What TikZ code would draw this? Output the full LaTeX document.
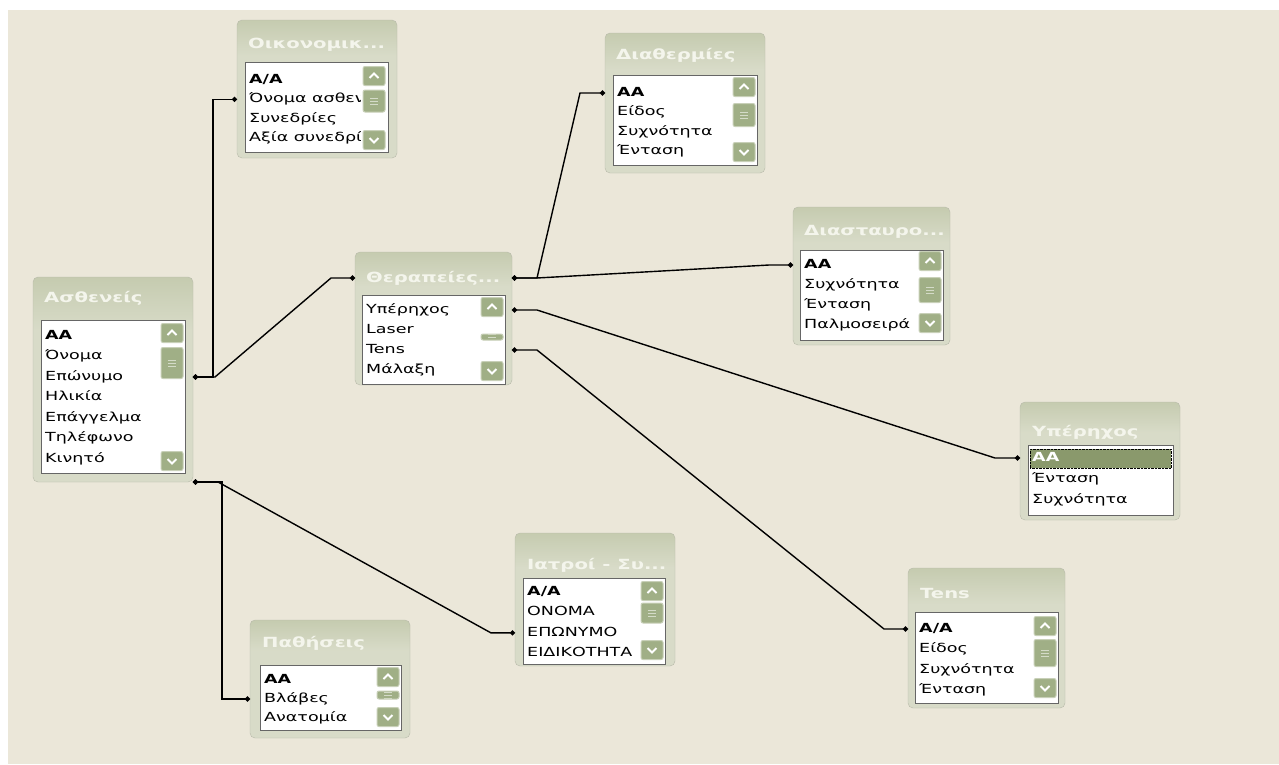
\documentclass[tikz,border=0pt]{standalone}
\usepackage{fontspec}
\setmainfont[FakeStretch=1.4]{DejaVu Sans}
\usetikzlibrary{calc,arrows.meta}

\definecolor{bgclr}{RGB}{235,231,217}
\definecolor{frameclr}{RGB}{216,219,200}
\definecolor{bartop}{RGB}{222,225,207}
\definecolor{barbot}{RGB}{190,197,166}
\definecolor{ttlclr}{RGB}{244,245,236}
\definecolor{btnclr}{RGB}{160,175,134}
\definecolor{btnedge}{RGB}{200,208,184}
\definecolor{selclr}{RGB}{138,153,108}
\pgfdeclareverticalshading{tblshade}{100bp}{color(0bp)=(frameclr); color(62bp)=(frameclr); color(80bp)=(barbot); color(100bp)=(bartop)}

\tikzset{
  tbl/.style={anchor=north west, inner sep=0, outer sep=0, shade, shading=tblshade, draw=frameclr!85!black, rounded corners=5pt},
  ttl/.style={anchor=west, inner sep=0, text=ttlclr, font=\fontsize{14}{16}\selectfont\bfseries},
  lst/.style={anchor=north west, inner sep=0, outer sep=0, fill=white, draw=black!60, line width=1pt},
  item/.style={anchor=west, inner sep=0, text height=9pt, text depth=2.5pt, font=\fontsize{12.5}{14}\selectfont},
  upbtn/.style={minimum width=22, minimum height=19, inner sep=0, fill=btnclr, draw=btnedge, line width=1pt, rounded corners=2pt,
    path picture={\draw[white, line width=2pt, sharp corners] ($(path picture bounding box.center)+(-4.5,2)$) -- ++(4.5,-4.5) -- ++(4.5,4.5);}},
  dnbtn/.style={minimum width=22, minimum height=19, inner sep=0, fill=btnclr, draw=btnedge, line width=1pt, rounded corners=2pt,
    path picture={\draw[white, line width=2pt, sharp corners] ($(path picture bounding box.center)+(-4.5,-2)$) -- ++(4.5,4.5) -- ++(4.5,-4.5);}},
  thumb/.style={minimum width=22, inner sep=0, fill=btnclr, draw=btnedge, line width=1pt, rounded corners=2pt,
    path picture={\foreach \d in {-3,0,3} \draw[btnclr!45!white, sharp corners] ($(path picture bounding box.center)+(-4,\d)$) -- ++(8,0);}},
  rel/.style={line width=1.4pt, {Circle[length=5pt,width=5pt]}-{Circle[length=5pt,width=5pt]}}
}

\begin{document}
\begin{tikzpicture}[x=1pt, y=-1pt]
\useasboundingbox (0,0) rectangle (1279,764);
\fill[white] (0,0) rectangle (1279,764);
\fill[bgclr] (8,10) rectangle (1279,764);

% Οικονομικά
\node[tbl, minimum width=160, minimum height=138] (oik) at (237,20) {};
\node[ttl] (oikT) at (248,45) {Οικονομικ...};
\node[lst, minimum width=143, minimum height=90] (oikL) at (245,62) {};
\foreach \t [count=\i] in {\textbf{A/A},Όνομα ασθεν,Συνεδρίες,Αξία συνεδρία}
  \node[item] (oik\i) at (249,60.6+19.4*\i) {\t};
\fill[white] (361,63) rectangle (387,151);
\node[upbtn] at (374,76) {};
\node[thumb, minimum height=22] at (374,101) {};
\node[dnbtn] at (374,140) {};

% Ασθενείς
\node[tbl, minimum width=160, minimum height=205] (ase) at (33,277) {};
\node[ttl] (aseT) at (44,298) {Ασθενείς};
\node[lst, minimum width=144, minimum height=153] (aseL) at (41,320) {};
\foreach \t [count=\i] in {\textbf{AA},Όνομα,Επώνυμο,Ηλικία,Επάγγελμα,Τηλέφωνο,Κινητό}
  \node[item] (ase\i) at (45,315.5+20.5*\i) {\t};
\fill[white] (159,321) rectangle (184,472);
\node[upbtn] at (172,333) {};
\node[thumb, minimum height=31] at (172,363) {};
\node[dnbtn] at (172,461) {};

% Θεραπείες
\node[tbl, minimum width=157, minimum height=133] (ther) at (355,252) {};
\node[ttl] (therT) at (366,278) {Θεραπείες...};
\node[lst, minimum width=143, minimum height=89] (therL) at (362,295) {};
\foreach \t [count=\i] in {Υπέρηχος,Laser,Tens,Μάλαξη}
  \node[item] (ther\i) at (366,290+20*\i) {\t};
\fill[white] (478,296) rectangle (504,383);
\node[upbtn] at (492,307) {};
\node[thumb, minimum height=6] at (492,337) {};
\node[dnbtn] at (492,371) {};

% Διαθερμίες
\node[tbl, minimum width=160, minimum height=140] (diath) at (605,33) {};
\node[ttl] (diathT) at (616,55) {Διαθερμίες};
\node[lst, minimum width=144, minimum height=90] (diathL) at (613,75) {};
\foreach \t [count=\i] in {\textbf{AA},Είδος,Συχνότητα,Ένταση}
  \node[item] (diath\i) at (617,73.5+19.5*\i) {\t};
\fill[white] (730,76) rectangle (756,164);
\node[upbtn] at (744,87) {};
\node[thumb, minimum height=23] at (744,115) {};
\node[dnbtn] at (744,152) {};

% Διασταυρούμενα
\node[tbl, minimum width=157, minimum height=138] (dias) at (793,207) {};
\node[ttl] (diasT) at (804,232) {Διασταυρο...};
\node[lst, minimum width=143, minimum height=90] (diasL) at (800,250) {};
\foreach \t [count=\i] in {\textbf{AA},Συχνότητα,Ένταση,Παλμοσειρά '}
  \node[item] (dias\i) at (804,245+20*\i) {\t};
\fill[white] (916,251) rectangle (942,339);
\node[upbtn] at (930,261) {};
\node[thumb, minimum height=25] at (930,290) {};
\node[dnbtn] at (930,323) {};

% Υπέρηχος
\node[tbl, minimum width=160, minimum height=118] (yper) at (1020,402) {};
\node[ttl] (yperT) at (1032,432) {Υπέρηχος};
\node[lst, minimum width=145, minimum height=70] (yperL) at (1028,445) {};
\node[anchor=north west, inner sep=0, fill=selclr, draw, densely dotted, minimum width=141, minimum height=19] (yperS) at (1030,449) {};
\foreach \t [count=\i] in {\textcolor{white}{\textbf{AA}},Ένταση,Συχνότητα}
  \node[item] (yper\i) at (1032,437+21*\i) {\t};

% Ιατροί - Συνεργάτες
\node[tbl, minimum width=160, minimum height=133] (iatr) at (515,533) {};
\node[ttl] (iatrT) at (527,565) {Ιατροί - Συ...};
\node[lst, minimum width=142, minimum height=86] (iatrL) at (523,578) {};
\foreach \t [count=\i] in {\textbf{A/A},ΟΝΟΜΑ,ΕΠΩΝΥΜΟ,ΕΙΔΙΚΟΤΗΤΑ}
  \node[item] (iatr\i) at (527,572+20.3*\i) {\t};
\fill[white] (638,579) rectangle (664,663);
\node[upbtn] at (652,591) {};
\node[thumb, minimum height=20] at (652,613) {};
\node[dnbtn] at (652,650) {};

% Tens
\node[tbl, minimum width=157, minimum height=140] (tens) at (908,568) {};
\node[ttl] (tensT) at (920,593) {Tens};
\node[lst, minimum width=143, minimum height=91] (tensL) at (915,612) {};
\foreach \t [count=\i] in {\textbf{A/A},Είδος,Συχνότητα,Ένταση}
  \node[item] (tens\i) at (919,608.5+20.5*\i) {\t};
\fill[white] (1031,613) rectangle (1057,702);
\node[upbtn] at (1045,626) {};
\node[thumb, minimum height=27] at (1045,653) {};
\node[dnbtn] at (1045,688) {};

% Παθήσεις
\node[tbl, minimum width=160, minimum height=118] (path) at (250,620) {};
\node[ttl] (pathT) at (262,643) {Παθήσεις};
\node[lst, minimum width=141, minimum height=65] (pathL) at (260,665) {};
\foreach \t [count=\i] in {\textbf{AA},Βλάβες,Ανατομία}
  \node[item] (path\i) at (264,661+19*\i) {\t};
\fill[white] (374,666) rectangle (400,729);
\node[upbtn] at (388,677) {};
\node[thumb, minimum height=8] at (388,695) {};
\node[dnbtn] at (388,717) {};

% relationships
\draw[rel] (ase.east |- ase3) -- ++(20,0) -- ($(oik.west |- oik2)+(-24,0)$) -- (oik.west |- oik2);
\draw[rel] (ase.east |- ase3) -- ++(22,0) -- ($(ther.west |- therT)+(-24,0)$) -- (ther.west |- therT);
\draw[rel] (ase.south east) -- ++(25,0) -- ($(iatr.west |- iatr3)+(-24,0)$) -- (iatr.west |- iatr3);
\draw[rel] (ase.south east) -- ++(29,0) -- ($(path.west |- path2)+(-28,0)$) -- (path.west |- path2);
\draw[rel] (ther.east |- therT) -- ++(25,0) -- ($(diath.west |- diath1)+(-25,0)$) -- (diath.west |- diath1);
\draw[rel] (ther.east |- therT) -- ++(25,0) -- ($(dias.west |- dias1)+(-24,0)$) -- (dias.west |- dias1);
\draw[rel] (ther.east |- ther1) -- ++(25,0) -- ($(yper.west |- yper1)+(-25,0)$) -- (yper.west |- yper1);
\draw[rel] (ther.east |- ther3) -- ++(25,0) -- ($(tens.west |- tens1)+(-24,0)$) -- (tens.west |- tens1);
\end{tikzpicture}
\end{document}
